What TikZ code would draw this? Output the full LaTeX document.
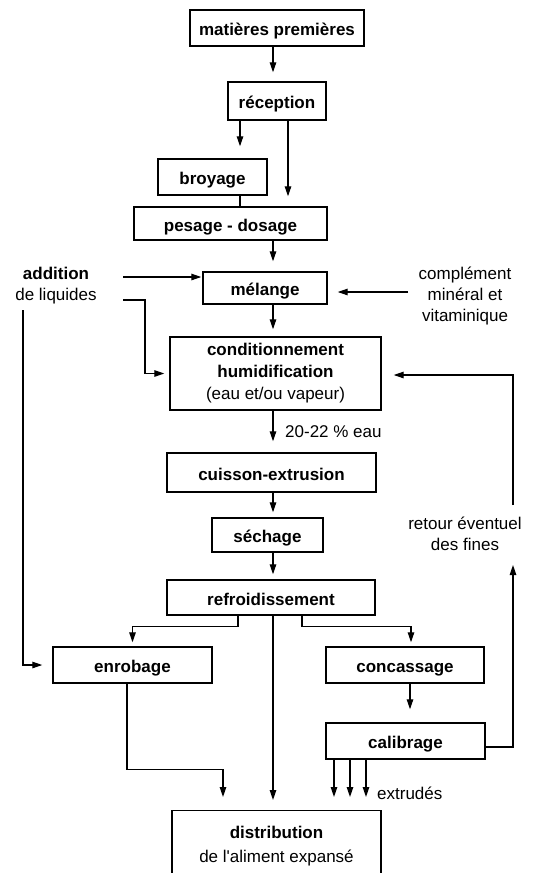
\documentclass[tikz,border=0pt]{standalone}
\usepackage{fontspec}
\setmainfont{Liberation Sans}
\usetikzlibrary{arrows.meta}

\tikzset{
    box/.style={draw, line width=1.4pt, inner sep=0pt,
        font=\fontsize{17}{21}\selectfont\bfseries,
        text height=15pt, text depth=0pt},
    bigbox/.style={draw, line width=1.4pt, inner sep=0pt, align=center,
        font=\fontsize{17}{22}\selectfont},
    lbl/.style={inner sep=0pt, align=center, font=\fontsize{17}{21}\selectfont},
    arr/.style={line width=1.2pt, -{Triangle[length=10pt,width=6.5pt]}},
    lnk/.style={line width=1.2pt},
}

\begin{document}
\begin{tikzpicture}[x=1pt,y=-1pt]
    \useasboundingbox (0,0) rectangle (547,873);
    \clip (0,0) rectangle (547,873);

    % columns used by the connectors:
    \coordinate (spine) at (273,0);
    \coordinate (xbroy) at (240,0);
    \coordinate (xpes)  at (288,0);
    \coordinate (xleft) at (238,0);
    \coordinate (xright) at (302,0);
    \coordinate (xenro) at (127,0);
    \coordinate (xin)   at (223,0);
    \coordinate (xconc) at (410,0);

    % boxes:
    \node[box, minimum width=174pt, minimum height=36pt] (mp)   at (277,28)    {matières premières};
    \node[box, minimum width=98pt,  minimum height=38pt] (rec)  at (277,101)   {réception};
    \node[box, minimum width=109pt, minimum height=36pt] (broy) at (212.5,177) {broyage};
    \node[box, minimum width=193pt, minimum height=33pt] (pes)  at (230.5,223.5) {pesage - dosage};
    \node[box, minimum width=124pt, minimum height=32pt] (mel)  at (265,288)   {mélange};
    \node[bigbox, minimum width=211pt, minimum height=73pt] (cond) at (275.5,373.5)
        {\textbf{conditionnement}\\\textbf{humidification}\\(eau et/ou vapeur)};
    \node[box, minimum width=209pt, minimum height=39pt] (cuis) at (271.5,472.5) {cuisson-extrusion};
    \node[box, minimum width=111pt, minimum height=34pt] (sech) at (267.5,535)   {séchage};
    \node[box, minimum width=208pt, minimum height=35pt] (refr) at (271,597.5)   {refroidissement};
    \node[box, minimum width=159pt, minimum height=36pt] (enro) at (132.5,665)   {enrobage};
    \node[box, minimum width=158pt, minimum height=36pt] (conc) at (405,665)     {concassage};
    \node[box, minimum width=159pt, minimum height=36pt] (cali) at (405.5,741)   {calibrage};
    \node[bigbox, minimum width=209pt, minimum height=70pt, anchor=north, font=\fontsize{17}{24}\selectfont] (dist) at (276.5,810)
        {\textbf{distribution}\\de l\textquotesingle aliment expansé};

    % side texts:
    \node[lbl] (liq) at (56,286) {\textbf{addition}\\de liquides};
    \node[lbl] (vit) at (465,296) {complément\\minéral et\\vitaminique};
    \node[lbl, anchor=west] (eau) at (285,432) {20-22 \% eau};
    \node[lbl] (ret) at (465,534) {retour éventuel\\des fines};
    \node[lbl, anchor=west] (extr) at (377,793) {extrudés};

    % main flow:
    \draw[arr, shorten >=9pt]  (mp.south -| spine) -- (rec.north -| spine);
    \draw[arr, shorten >=12pt] (rec.south -| xbroy) -- (broy.north -| xbroy);
    \draw[arr, shorten >=10pt] (rec.south -| xpes) -- (pes.north -| xpes);
    \draw[lnk] (broy.south -| xbroy) -- (pes.north -| xbroy);
    \draw[arr, shorten >=10pt] (pes.south -| spine) -- (mel.north -| spine);
    \draw[arr, shorten >=7pt]  (mel.south -| spine) -- (cond.north -| spine);
    \draw[arr, shorten >=11pt] (cond.south -| spine) -- (cuis.north -| spine);
    \draw[arr, shorten >=5pt]  (cuis.south -| spine) -- (sech.north -| spine);
    \draw[arr, shorten >=5pt]  (sech.south -| spine) -- (refr.north -| spine);

    % after cooling:
    \draw[arr, shorten >=4pt]  (refr.south -| xleft) -- ++(0,11) -| (enro.north);
    \draw[arr, shorten >=4pt]  (refr.south -| xright) -- ++(0,11) -| ([xshift=6pt]conc.north);
    \draw[arr, shorten >=10pt] (refr.south -| spine) -- (dist.north -| spine);
    \draw[arr, shorten >=13pt] (enro.south -| xenro) -- ++(0,86) -| (dist.north -| xin);
    \draw[arr, shorten >=13pt] (conc.south -| xconc) -- (cali.north -| xconc);
    \foreach \x in {334,350,366} {
        \coordinate (c\x) at (\x,0);
        \draw[arr, shorten >=13pt] (cali.south -| c\x) -- (dist.north -| c\x);
    }

    % additions:
    \coordinate (liqa) at (123,277);
    \coordinate (liqb) at (123,300);
    \coordinate (liqc) at (23,310);
    \coordinate (vita) at (408,292);
    \draw[arr, shorten >=1pt]  (liqa) -- (liqa -| mel.west);
    \draw[arr, shorten >=5pt]  (liqb) -- ++(22,0) |- (cond.west);
    \draw[arr, shorten >=10pt] (liqc) |- (enro.west);
    \draw[arr, shorten >=10pt] (vita) -- (vita -| mel.east);

    % return of fines:
    \coordinate (retin)  at (513,565);
    \coordinate (retout) at (513,505);
    \draw[arr] ([yshift=-6pt]cali.east) -| (retin);
    \draw[arr, shorten >=12pt] (retout) |- ([yshift=-1.5pt]cond.east);
\end{tikzpicture}
\end{document}
